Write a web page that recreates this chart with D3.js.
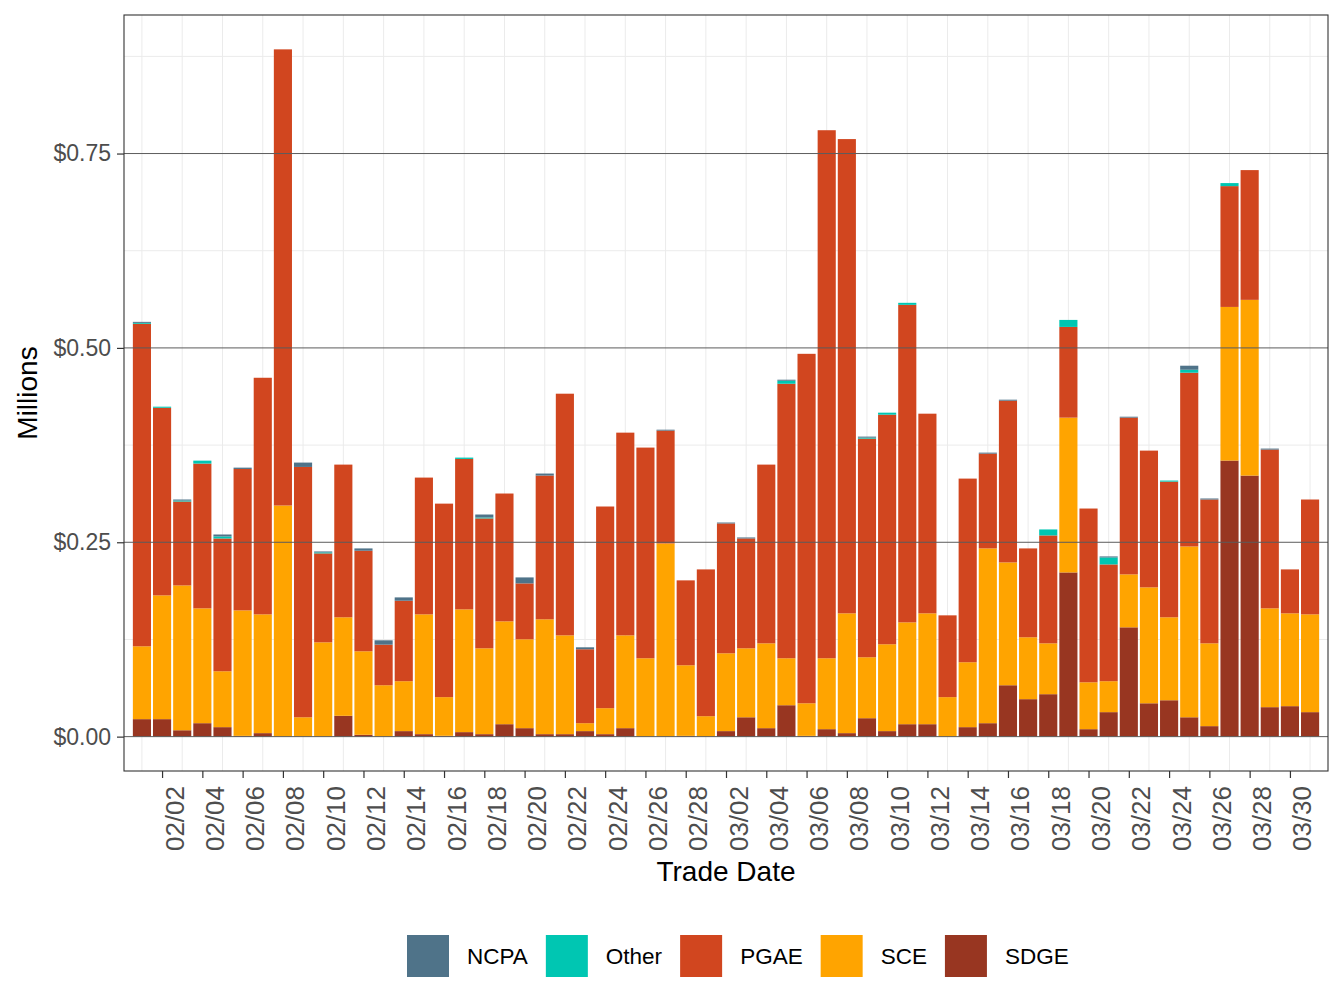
<!DOCTYPE html>
<html>
<head>
<meta charset="utf-8">
<script src="https://cdn.jsdelivr.net/npm/d3@7"></script>
<style>
  body { margin: 0; background: #fff; }
  text { font-family: "Liberation Sans", Arial, sans-serif; }
</style>
</head>
<body>
<div id="chart"></div>
<script>
// trade dates (one bar each)
var dates = ["02/01","02/02","02/03","02/04","02/05","02/06","02/07","02/08","02/09","02/10",
  "02/11","02/12","02/13","02/14","02/15","02/16","02/17","02/18","02/19","02/20",
  "02/21","02/22","02/23","02/24","02/25","02/26","02/27","02/28","03/01","03/02",
  "03/03","03/04","03/05","03/06","03/07","03/08","03/09","03/10","03/11","03/12",
  "03/13","03/14","03/15","03/16","03/17","03/18","03/19","03/20","03/21","03/22",
  "03/23","03/24","03/25","03/26","03/27","03/28","03/29","03/30","03/31"];

var tickLabels = ["02/02","02/04","02/06","02/08","02/10","02/12","02/14","02/16","02/18","02/20",
  "02/22","02/24","02/26","02/28","03/02","03/04","03/06","03/08","03/10","03/12",
  "03/14","03/16","03/18","03/20","03/22","03/24","03/26","03/28","03/30"];

var yTicks = [0, 0.25, 0.5, 0.75];

// values in millions of dollars
var SDGE = [0.0225,0.0225,0.0082,0.0173,0.0122,0.0010,0.0045,0,0,0,
  0.0268,0.0024,0,0.0071,0.0032,0.0011,0.0058,0.0032,0.0160,0.0109,
  0.0032,0.0032,0.0071,0.0032,0.0109,0,0,0.0010,0,0.0071,
  0.0249,0.0109,0.0404,0.0010,0.0096,0.0045,0.0237,0.0071,0.0160,0.0160,
  0,0.0122,0.0173,0.0661,0.0482,0.0546,0.2112,0.0096,0.0315,0.1406,
  0.0429,0.0468,0.0249,0.0135,0.3551,0.3358,0.0379,0.0392,0.0315];

var SCE = [0.0937,0.1592,0.1863,0.1477,0.0719,0.1614,0.1528,0.2973,0.0249,0.1213,
  0.1267,0.1074,0.0661,0.0642,0.1541,0.0497,0.1579,0.1104,0.1323,0.1143,
  0.1477,0.1271,0.0102,0.0334,0.1194,0.1008,0.2485,0.0908,0.0263,0.1001,
  0.0887,0.1091,0.0604,0.0419,0.0912,0.1541,0.0784,0.1117,0.1310,0.1426,
  0.0508,0.0835,0.2248,0.1580,0.0796,0.0654,0.1991,0.0603,0.0398,0.0681,
  0.1491,0.1067,0.2197,0.1065,0.1976,0.2260,0.1271,0.1194,0.1258];

var PGAE = [0.4148,0.2413,0.1079,0.1862,0.1708,0.1819,0.3043,0.5867,0.3220,0.1144,
  0.1964,0.1293,0.0522,0.1035,0.1759,0.2489,0.1935,0.1671,0.1644,0.0719,
  0.1849,0.3108,0.0951,0.2594,0.2607,0.2710,0.1451,0.1092,0.1888,0.1670,
  0.1413,0.2299,0.3531,0.4495,0.6792,0.6100,0.2812,0.2953,0.4084,0.2568,
  0.1052,0.2362,0.1219,0.2080,0.1143,0.1388,0.1167,0.2235,0.1502,0.2016,
  0.1759,0.1745,0.2235,0.1850,0.1554,0.1669,0.2042,0.0565,0.1477];

var Other = [0.0012,0.0014,0.0013,0.0038,0.0026,0,0,0,0,0.0013,
  0,0,0,0,0,0,0.0017,0.0012,0,0,
  0,0,0,0,0,0,0,0,0,0,
  0,0,0.0039,0,0,0,0.0013,0.0026,0.0026,0,
  0,0,0,0,0,0.0077,0.0090,0,0.0090,0,
  0,0.0014,0.0038,0,0.0039,0,0,0,0];

var NCPA = [0.0013,0,0.0013,0,0.0025,0.0017,0,0,0.0056,0.0012,
  0,0.0030,0.0056,0.0043,0,0,0,0.0038,0,0.0077,
  0.0026,0,0.0025,0,0,0,0.0012,0,0,0.0012,
  0.0013,0,0.0013,0,0,0,0.0013,0,0,0,
  0,0,0.0013,0.0013,0,0,0,0,0.0013,0.0012,
  0,0,0.0052,0.0013,0,0,0.0013,0,0];

var stackKeys = ["SDGE","SCE","PGAE","Other","NCPA"];
var legendKeys = ["NCPA","Other","PGAE","SCE","SDGE"];
var colors = {
  NCPA: "#4f7389",
  Other: "#00c6b2",
  PGAE: "#d1461f",
  SCE: "#ffa400",
  SDGE: "#983621"
};

var series = { SDGE: SDGE, SCE: SCE, PGAE: PGAE, Other: Other, NCPA: NCPA };

var margin = { top: 15, right: 16, bottom: 237, left: 124 },
    width = 1344 - margin.left - margin.right,
    height = 1008 - margin.top - margin.bottom;

var svg = d3.select("#chart").append("svg")
    .attr("width", 1344)
    .attr("height", 1008);

var g = svg.append("g")
    .attr("transform", "translate(" + margin.left + "," + margin.top + ")");

// day index scale, bars are 0.9 day wide
var x = d3.scaleLinear()
    .domain([-0.89, dates.length - 1 + 0.89])
    .range([0, width]);

var y = d3.scaleLinear()
    .domain([-0.0442, 0.9282])
    .range([height, 0]);

var rows = dates.map(function(d, i) {
  var r = { date: d, i: i };
  stackKeys.forEach(function(k) { r[k] = series[k][i]; });
  return r;
});

var stacked = d3.stack().keys(stackKeys)(rows);

// minor grid (light)
var minorY = [0.125, 0.375, 0.625, 0.875];
g.selectAll(".gy").data(minorY).enter().append("line")
    .attr("x1", 0).attr("x2", width)
    .attr("y1", function(d) { return y(d); })
    .attr("y2", function(d) { return y(d); })
    .attr("stroke", "#ebebeb").attr("stroke-width", 1);

var minorX = dates.map(function(d, i) { return i; }).filter(function(i) { return i % 2 == 0; });
g.selectAll(".gx").data(minorX).enter().append("line")
    .attr("y1", 0).attr("y2", height)
    .attr("x1", function(d) { return x(d); })
    .attr("x2", function(d) { return x(d); })
    .attr("stroke", "#ebebeb").attr("stroke-width", 1);

// bars
g.selectAll(".layer")
    .data(stacked)
    .enter().append("g")
    .attr("class", "layer")
    .attr("fill", function(d) { return colors[d.key]; })
    .selectAll("rect")
    .data(function(d) { return d; })
    .enter().append("rect")
    .attr("x", function(d) { return x(d.data.i - 0.45); })
    .attr("width", function(d) { return x(d.data.i + 0.45) - x(d.data.i - 0.45); })
    .attr("y", function(d) { return y(d[1]); })
    .attr("height", function(d) { return Math.max(0, y(d[0]) - y(d[1])); });

// major horizontal lines drawn over the bars
g.selectAll(".hy").data(yTicks).enter().append("line")
    .attr("x1", 0).attr("x2", width)
    .attr("y1", function(d) { return y(d); })
    .attr("y2", function(d) { return y(d); })
    .attr("stroke", "#5c5c5c").attr("stroke-width", 1);

// panel border
g.append("rect")
    .attr("width", width).attr("height", height)
    .attr("fill", "none").attr("stroke", "#333").attr("stroke-width", 1.1);

// y axis
var yAxis = d3.axisLeft(y)
    .tickValues(yTicks)
    .tickSize(7)
    .tickPadding(6)
    .tickFormat(function(d) { return "$" + d3.format(".2f")(d); });

var ya = g.append("g").call(yAxis);
ya.select(".domain").remove();
ya.selectAll("line").attr("stroke", "#333").attr("stroke-width", 1.2);
ya.selectAll("text")
    .attr("fill", "#4d4d4d")
    .style("font-size", "23px")
    .style("font-family", "'Liberation Sans', Arial, sans-serif");

// x axis
var tickIdx = tickLabels.map(function(t) { return dates.indexOf(t); });
var xAxis = d3.axisBottom(x)
    .tickValues(tickIdx)
    .tickSize(7)
    .tickFormat(function(d) { return dates[d]; });

var xa = g.append("g")
    .attr("transform", "translate(0," + height + ")")
    .call(xAxis);
xa.select(".domain").remove();
xa.selectAll("line").attr("stroke", "#333").attr("stroke-width", 1.2);
xa.selectAll("text")
    .attr("fill", "#4d4d4d")
    .attr("transform", "translate(21,15) rotate(-90)")
    .attr("x", 0).attr("y", 0).attr("dy", 0)
    .style("text-anchor", "end")
    .style("font-size", "26px")
    .style("font-family", "'Liberation Sans', Arial, sans-serif");

// axis titles
svg.append("text")
    .attr("x", margin.left + width / 2)
    .attr("y", 881)
    .attr("text-anchor", "middle")
    .style("font-size", "28px")
    .text("Trade Date");

svg.append("text")
    .attr("transform", "translate(37," + (margin.top + height / 2) + ") rotate(-90)")
    .attr("text-anchor", "middle")
    .style("font-size", "28px")
    .text("Millions");

// legend
var legend = svg.append("g");
var lx = 407;
legendKeys.forEach(function(k) {
  legend.append("rect")
      .attr("x", lx).attr("y", 935)
      .attr("width", 42).attr("height", 42)
      .attr("fill", colors[k]);
  var t = legend.append("text")
      .attr("x", lx + 42 + 18)
      .attr("y", 956)
      .attr("dy", "0.35em")
      .style("font-size", "22.5px")
      .text(k);
  lx = lx + 42 + 18 + t.node().getComputedTextLength() + 18;
});
</script>
</body>
</html>
